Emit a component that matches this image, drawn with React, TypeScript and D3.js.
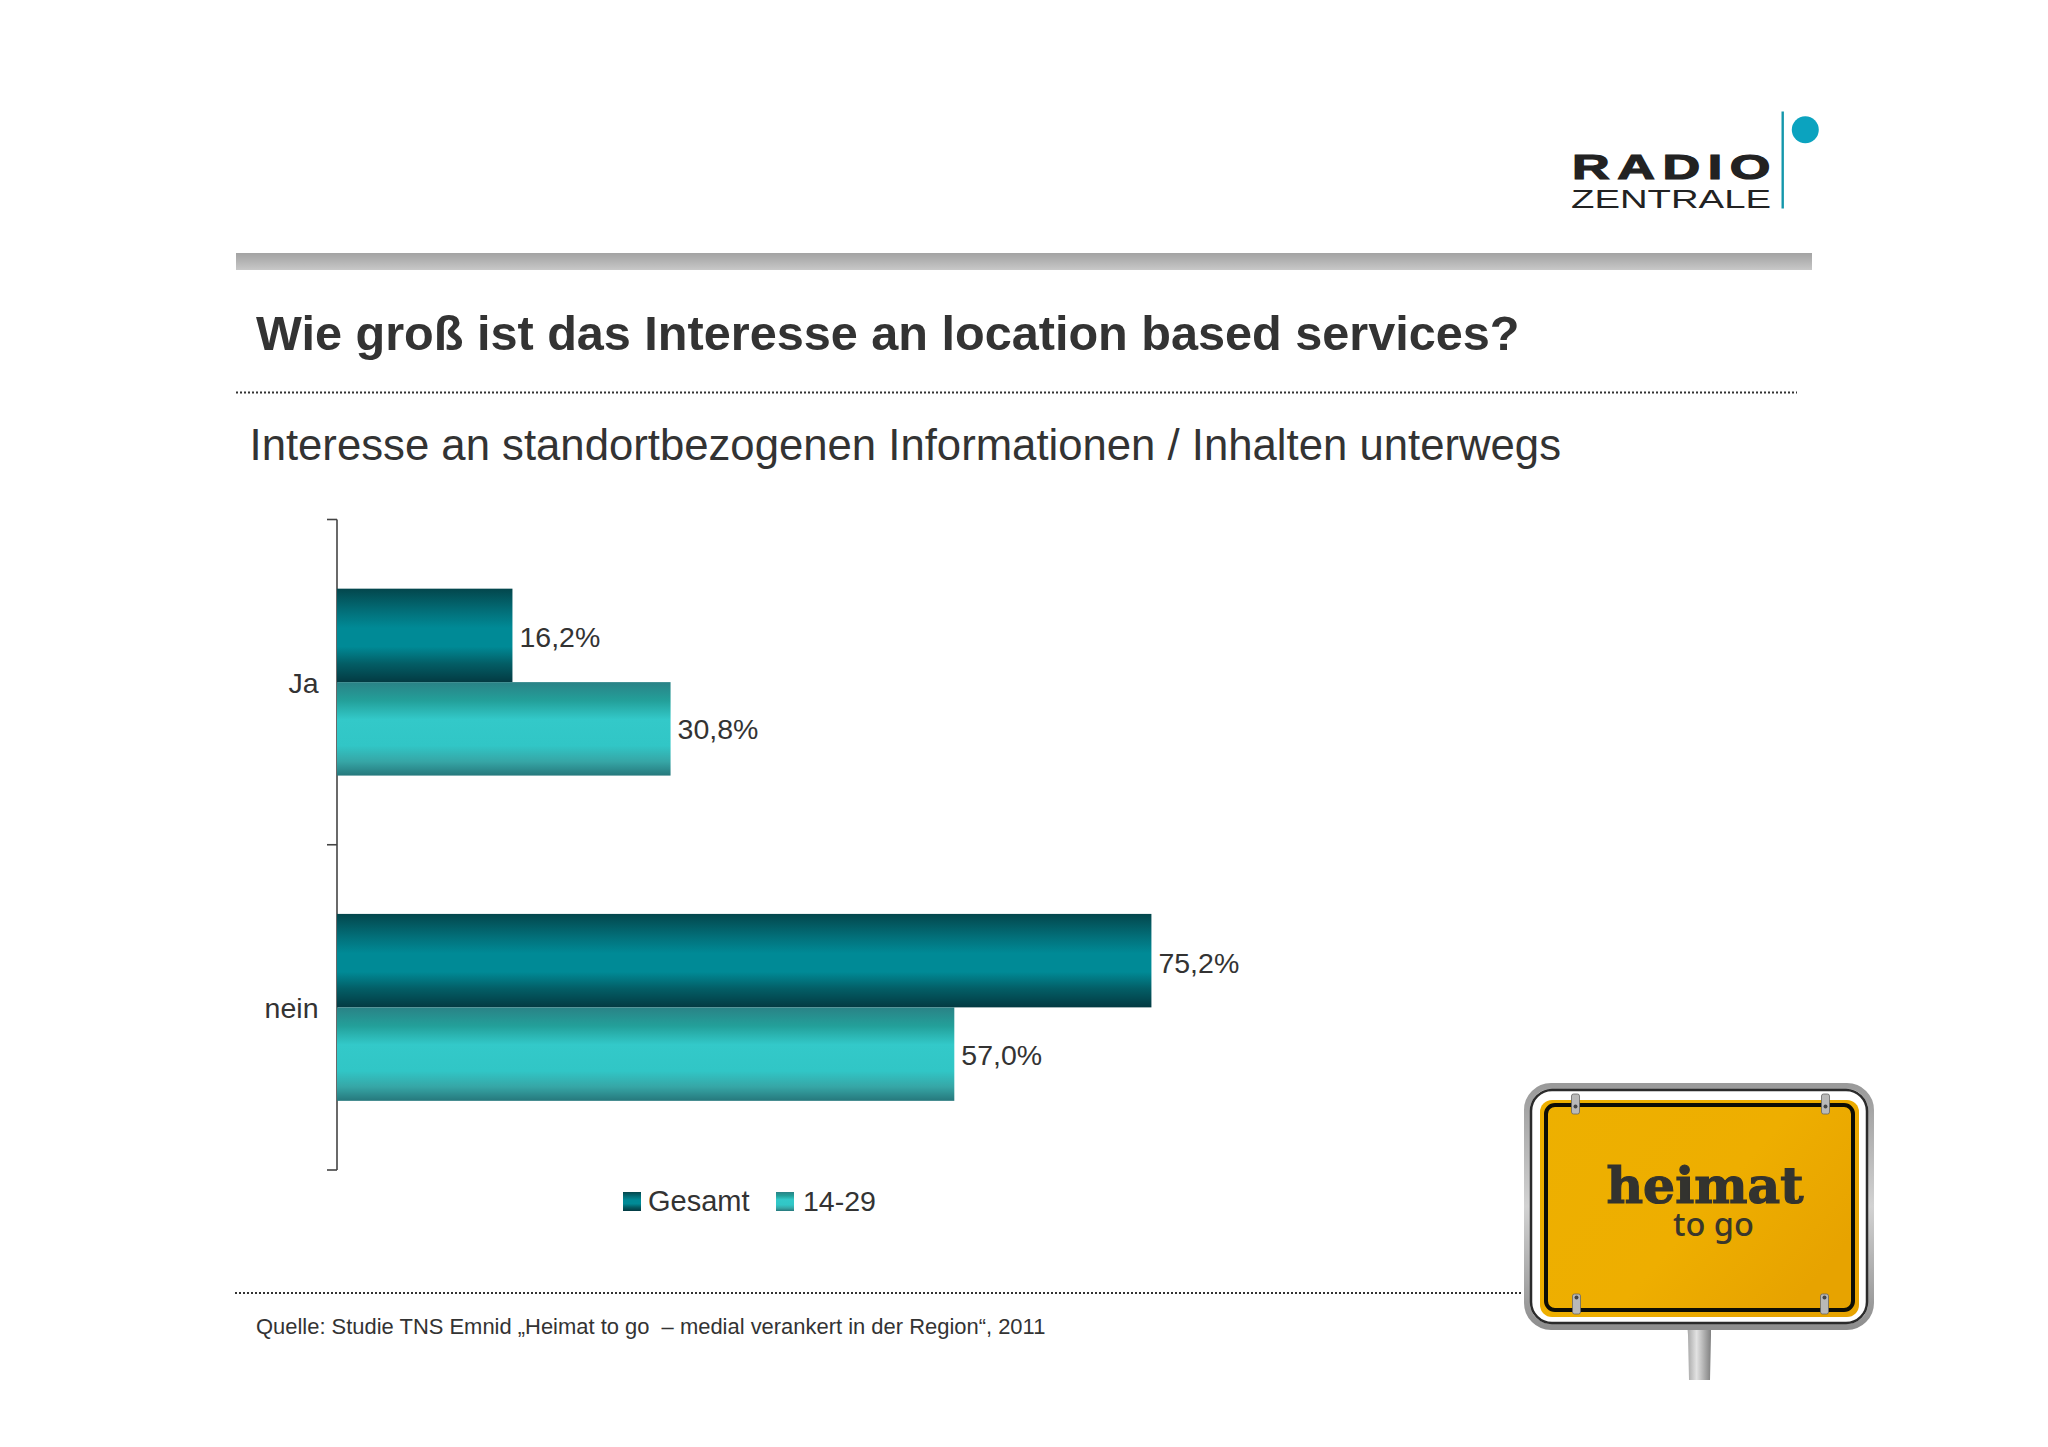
import React from "react";
import * as d3 from "d3";

const categories = ["Ja", "nein"];
const seriesNames = ["Gesamt", "14-29"];
const gesamtValues = [16.2, 75.2];
const jungValues = [30.8, 57.0];
const titleText = "Wie groß ist das Interesse an location based services?";
const subtitleText = "Interesse an standortbezogenen Informationen / Inhalten unterwegs";
const sourceText = "Quelle: Studie TNS Emnid „Heimat to go  – medial verankert in der Region“, 2011";

const W = 2048, H = 1447;
const FONT = "'Liberation Sans', Arial, sans-serif";
const INK = "#333333";

const x = d3.scaleLinear().domain([0, 100]).range([337, 1420]);
const y = d3.scaleBand<string>().domain(categories).range([519.5, 1170]).paddingInner(0).paddingOuter(0);
const inner = d3.scaleBand<string>().domain(seriesNames).range([0, y.bandwidth()]).paddingInner(0).paddingOuter(0.74);
const fmt = (v: number) => v.toFixed(1).replace(".", ",") + "%";
const seriesValues = [gesamtValues, jungValues];
const fills = ["url(#gradDark)", "url(#gradLight)"];

const DARK: [number, string][] = [[0, "#03464c"], [0.25, "#02707a"], [0.42, "#008a96"], [0.62, "#008a96"], [0.8, "#035e66"], [1, "#033a42"]];
const LIGHT: [number, string][] = [[0, "#2a8286"], [0.2, "#23a09a"], [0.4, "#33c9c9"], [0.68, "#31c6c6"], [0.85, "#36a6a6"], [1, "#26787c"]];

function Grad({ id, stops }: { id: string; stops: [number, string][] }) {
  return (
    <linearGradient id={id} x1="0" y1="0" x2="0" y2="1">
      {stops.map(([o, c]) => <stop key={o} offset={o} stopColor={c} />)}
    </linearGradient>
  );
}

function Logo() {
  return (
    <g>
      <g transform="translate(1572 179) scale(1.45 1)">
        <text x={0} y={0} fontFamily={FONT} fontWeight={700} fontSize={36} letterSpacing={5.2} fill="#222" stroke="#222" strokeWidth={1.2}>RADIO</text>
      </g>
      <text x={1571} y={207.8} fontFamily={FONT} fontSize={25} fill="#222"
        textLength={200} lengthAdjust="spacingAndGlyphs">ZENTRALE</text>
      <rect x={1781.5} y={111.5} width={2.4} height={97} fill="#1497ab" />
      <circle cx={1805.3} cy={129.7} r={13.5} fill="#0ba3bf" />
    </g>
  );
}

function Sign() {
  const brackets: [number, number][] = [[1575, 1102], [1825, 1102], [1576, 1302], [1824, 1302]];
  return (
    <g>
      <path d="M1687 1322 L1711 1322 L1711 1335 L1710 1380 L1689 1380 L1688 1335 Z" fill="url(#gradPole)" />
      <rect x={1527} y={1086} width={344} height={241} rx={24} fill="#fff" stroke="url(#gradFrame)" strokeWidth={6} />
      <rect x={1531} y={1090} width={336} height={233} rx={21} fill="none" stroke="#2b2b2b" strokeWidth={2.5} />
      <rect x={1540} y={1100} width={319} height={217} rx={12} fill="url(#gradPlate)" />
      <rect x={1546} y={1105} width={307} height={205} rx={9} fill="none" stroke="#0d0d05" strokeWidth={4} />
      {brackets.map(([bx, by]) => (
        <g key={bx + "-" + by}>
          <rect x={bx - 3.5} y={by - 8} width={8} height={20} rx={2} fill="#b9b9b9" stroke="#666" strokeWidth={0.8} />
          <circle cx={bx + 0.5} cy={by + 9 * (by < 1200 ? 1 : -1) / 2} r={2} fill="#444" />
        </g>
      ))}
      <text x={1606.5} y={1203} fontFamily="'DejaVu Serif', serif" fontWeight={700} fontSize={50} fill="#33332f" stroke="#33332f" strokeWidth={1.2}
        textLength={197} lengthAdjust="spacingAndGlyphs">heimat</text>
      <text x={1673} y={1236} fontFamily="'Noto Sans', sans-serif" fontWeight={500} fontSize={33} fill="#3a372c"
        textLength={81} lengthAdjust="spacingAndGlyphs">to go</text>
    </g>
  );
}

export default function App() {
  const [y0, y1] = y.range();
  const tickYs = [y0, y1 - y.step(), y1];
  return (
    <svg width={W} height={H} viewBox={`0 0 ${W} ${H}`} style={{ position: "absolute", left: 0, top: 0, display: "block", background: "#fff" }}>
      <defs>
        <Grad id="gradDark" stops={DARK} />
        <Grad id="gradLight" stops={LIGHT} />
        <Grad id="gradBar" stops={[[0, "#a3a3a3"], [0.5, "#b4b4b4"], [1, "#c8c8c8"]]} />
        <Grad id="gradFrame" stops={[[0, "#9a9a9a"], [0.5, "#d2d2d2"], [1, "#8e8e8e"]]} />
        <linearGradient id="gradPole" x1="0" y1="0" x2="1" y2="0">
          <stop offset="0" stopColor="#a5a5a5" /><stop offset="0.4" stopColor="#e2e2e2" /><stop offset="1" stopColor="#808080" />
        </linearGradient>
        <linearGradient id="gradPlate" x1="0" y1="0" x2="1" y2="0.6">
          <stop offset="0" stopColor="#edb000" /><stop offset="0.6" stopColor="#eeae00" /><stop offset="1" stopColor="#e7a300" />
        </linearGradient>
      </defs>

      <Logo />
      <rect x={236} y={253} width={1576} height={17} fill="url(#gradBar)" />

      <text x={256} y={350} fontFamily={FONT} fontWeight={700} fontSize={48.6} fill={INK}>{titleText}</text>
      <line x1={236} x2={1797} y1={392.5} y2={392.5} stroke="#333" strokeWidth={2} strokeDasharray="2 2" />
      <text x={249.5} y={459.5} fontFamily={FONT} fontSize={43.7} fill={INK}>{subtitleText}</text>

      {/* axis */}
      <line x1={x(0)} x2={x(0)} y1={y0} y2={y1} stroke="#444" strokeWidth={1.6} />
      {tickYs.map((t) => (
        <line key={t} x1={x(0) - 10} x2={x(0)} y1={t} y2={t} stroke="#444" strokeWidth={1.6} />
      ))}
      {categories.map((c) => (
        <text key={c} x={318.5} y={y(c)! + y.bandwidth() / 2 + 10.5} textAnchor="end" fontFamily={FONT} fontSize={28.5} fill={INK}>{c}</text>
      ))}

      {/* bars */}
      {categories.map((c, i) =>
        seriesNames.map((s, j) => {
          const v = seriesValues[j][i];
          const top = y(c)! + inner(s)!;
          return (
            <g key={c + s}>
              <rect x={x(0)} y={top} width={x(v) - x(0)} height={inner.bandwidth()} fill={fills[j]} />
              <text x={x(v) + 7} y={top + inner.bandwidth() / 2 + (j === 0 ? 12 : 10.5)} fontFamily={FONT} fontSize={28.5} fill={INK}>{fmt(v)}</text>
            </g>
          );
        })
      )}

      {/* legend */}
      <rect x={623} y={1192} width={18} height={19} fill={fills[0]} />
      <text x={648} y={1211} fontFamily={FONT} fontSize={29} fill={INK}>{seriesNames[0]}</text>
      <rect x={776} y={1192} width={18} height={19} fill={fills[1]} />
      <text x={803} y={1211} fontFamily={FONT} fontSize={28.5} fill={INK}>{seriesNames[1]}</text>

      <line x1={235} x2={1522} y1={1293} y2={1293} stroke="#333" strokeWidth={2} strokeDasharray="2 2" />
      <text x={256} y={1334} fontFamily={FONT} fontSize={21.95} fill={INK} xmlSpace="preserve">{sourceText}</text>

      <Sign />
    </svg>
  );
}
